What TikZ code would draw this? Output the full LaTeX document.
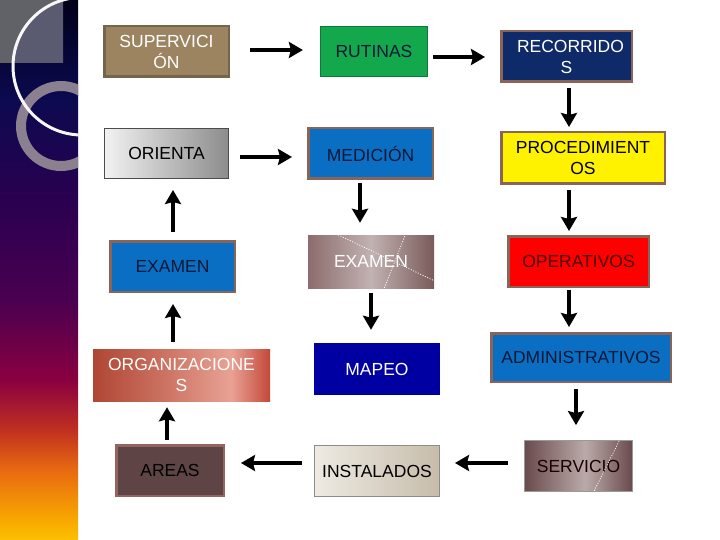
\documentclass[tikz,border=0pt]{standalone}
\usepackage{fontspec}
\setmainfont{Liberation Sans}
\usetikzlibrary{arrows.meta,calc}
\definecolor{sY}{HTML}{FBC000}
\definecolor{sA}{HTML}{F8A800}
\definecolor{sB}{HTML}{E86A10}
\definecolor{sC}{HTML}{C03020}
\definecolor{sD}{HTML}{8A0040}
\definecolor{sE}{HTML}{4A0050}
\definecolor{sF}{HTML}{2A0050}
\definecolor{sG}{HTML}{0C0A50}
\definecolor{sK}{HTML}{000018}
\pgfdeclareverticalshading{stripshade}{100bp}{color(0bp)=(sY); color(25bp)=(sY); color(26.85bp)=(sA); color(31.48bp)=(sB); color(35.19bp)=(sC); color(39.81bp)=(sD); color(47.22bp)=(sE); color(56.48bp)=(sF); color(65.74bp)=(sG); color(75bp)=(sK); color(100bp)=(sK)}
\definecolor{brd}{HTML}{8B6458}
\definecolor{supF}{HTML}{9C8461}
\definecolor{supB}{HTML}{75664B}
\definecolor{rutF}{HTML}{12A84B}
\definecolor{rutB}{HTML}{0B7A3A}
\definecolor{recF}{HTML}{0F2A68}
\definecolor{bluF}{HTML}{0A6FC2}
\definecolor{navyT}{HTML}{0A1838}
\definecolor{mapF}{HTML}{0000A2}
\definecolor{areF}{HTML}{5E4444}
\definecolor{areB}{HTML}{946460}
\definecolor{opeT}{HTML}{4A0000}
\definecolor{oriL}{HTML}{F2F2F2}
\definecolor{oriR}{HTML}{8C8C8C}
\definecolor{orgL}{HTML}{B04634}
\definecolor{orgL2}{HTML}{CC7262}
\definecolor{orgM}{HTML}{E8A294}
\definecolor{orgR}{HTML}{C4483A}
\pgfdeclarehorizontalshading{orgshade}{100bp}{color(0bp)=(orgL); color(25bp)=(orgL); color(45bp)=(orgL2); color(64bp)=(orgM); color(75bp)=(orgR); color(100bp)=(orgR)}
\definecolor{exL}{HTML}{8C6C6C}
\definecolor{exM}{HTML}{C2B2B2}
\definecolor{exR}{HTML}{7A5A5A}
\definecolor{insL}{HTML}{EEEAE2}
\definecolor{insR}{HTML}{C6BCAA}
\definecolor{serL}{HTML}{6A4A4C}
\definecolor{serM}{HTML}{BBAAAA}
\definecolor{serR}{HTML}{6A4A4C}
\pgfdeclarehorizontalshading{sershade}{100bp}{color(0bp)=(serL); color(25bp)=(serL); color(53bp)=(serM); color(75bp)=(serR); color(100bp)=(serR)}
\definecolor{sqG}{HTML}{616168}
\definecolor{sqB}{HTML}{5A5A70}
\definecolor{ringC}{HTML}{8A8090}
\tikzset{
  box/.style={draw=brd, line width=2.5pt, inner sep=0pt, align=center,
    font=\fontsize{17.5}{21}\selectfont},
  arr/.style={line width=4pt, -{Stealth[length=14pt,width=16pt,inset=2pt]}},
  dotl/.style={white, line width=0.8pt, dash pattern=on 1pt off 1.6pt},
}
\begin{document}
\begin{tikzpicture}[x=1pt,y=-1pt]
\useasboundingbox (0,0) rectangle (720,540);
\fill[white] (0,0) rectangle (720,540);
% left decorative strip
\shade[shading=stripshade] (0,0) rectangle (78,540);
\begin{scope}
  \clip (0,0) rectangle (78,540);
  \fill[sqG] (0,0) rectangle (63,63);
  \begin{scope}
    \clip (0,0) rectangle (63,63);
    \fill[sqB] (81.8,66.2) circle[radius=68.8];
  \end{scope}
  \fill[ringC, even odd rule] (61,126) circle[radius=45] (61,126) circle[radius=35];
  \draw[white!94!gray, line width=3pt] (81.8,66.2) circle[radius=68.8];
\end{scope}
% boxes
\node[box, draw=supB, fill=supF, text=white, minimum width=124.5pt, minimum height=50.5pt] (sup) at (166.5,51.5) {SUPERVICI\\ÓN};
\node[box, draw=rutB, line width=1.2pt, fill=rutF, text=navyT, minimum width=107pt, minimum height=50pt] (rut) at (374,51.5) {RUTINAS};
\node[box, fill=recF, text=white, minimum width=130.5pt, minimum height=50.5pt] (rec) at (566.5,56.5) {\hspace*{8pt}RECORRIDO\\S};
\node[box, draw=black!70, line width=1pt, left color=oriL, right color=oriR, text=black, minimum width=124pt, minimum height=50pt] (ori) at (166.5,153.5) {ORIENTA};
\node[box, fill=bluF, text=navyT, minimum width=124.5pt, minimum height=50.5pt] (med) at (370.5,153.5) {MEDICIÓN};
\node[box, fill=yellow, text=black, minimum width=163.5pt, minimum height=51.5pt] (pro) at (583,158) {PROCEDIMIENT\\OS};
\node[box, fill=bluF, text=navyT, minimum width=124.5pt, minimum height=50.5pt] (exl) at (172.5,266.5) {EXAMEN};
\node[box, draw=none, left color=exL, right color=exR, middle color=exM, text=white, minimum width=126pt, minimum height=53pt] (exm) at (371,261.5) {EXAMEN};
\node[box, fill=red, text=opeT, minimum width=140.5pt, minimum height=50.5pt] (ope) at (578.5,261.5) {OPERATIVOS};
\node[box, draw=none, shading=orgshade, text=white, minimum width=177pt, minimum height=52pt] (org) at (181.5,375) {ORGANIZACIONE\\S};
\node[box, draw=none, fill=mapF, text=white, minimum width=126pt, minimum height=52pt] (map) at (377,369) {MAPEO};
\node[box, fill=bluF, text=navyT, minimum width=179.5pt, minimum height=48.5pt] (adm) at (581,357.5) {ADMINISTRATIVOS};
\node[box, draw=areB, fill=areF, text=black, minimum width=107.5pt, minimum height=50.5pt] (are) at (170,470.5) {AREAS};
\node[box, draw=black!45, line width=1pt, left color=insL, right color=insR, text=black, minimum width=125pt, minimum height=51pt] (ins) at (377,471) {INSTALADOS};
\node[box, draw=black!40, line width=0.8pt, shading=sershade, text=black!90!red, minimum width=108pt, minimum height=51pt] (ser) at (578.5,466) {SERVICIO};
% dotted white streaks
\draw[dotl] ($(exm.north west)+(29,0)$) -- ($(exm.south east)+(0,-8)$);
\draw[dotl] ($(exm.north west)+(99,0)$) -- ($(exm.south west)+(77,0)$);
\draw[dotl] ($(ser.north west)+(95,1)$) -- ($(ser.south west)+(70,-1)$);
% arrows
\draw[arr, shorten <=20pt, shorten >=17pt] ([yshift=1.5pt]sup.east) -- ([yshift=1.5pt]sup.east -| rut.west);
\draw[arr, shorten <=5pt, shorten >=15pt] ([yshift=-5.5pt]rut.east) -- ([yshift=-5.5pt]rut.east -| rec.west);
\draw[arr, shorten <=5pt, shorten >=4pt] ([xshift=2.5pt]rec.south) -- ([xshift=2.5pt]rec.south |- pro.north);
\draw[arr, shorten <=11pt, shorten >=15pt] ([yshift=-3.5pt]ori.east) -- ([yshift=-3.5pt]ori.east -| med.west);
\draw[arr, shorten <=3pt, shorten >=11pt] ([xshift=-10.5pt]med.south) -- ([xshift=-10.5pt]med.south |- exm.north);
\draw[arr, shorten <=5pt, shorten >=4pt] ([xshift=-14pt]pro.south) -- ([xshift=-14pt]pro.south |- ope.north);
\draw[arr, shorten <=8pt, shorten >=11pt] ([xshift=0.5pt]exl.north) -- ([xshift=0.5pt]exl.north |- ori.south);
\draw[arr, shorten <=4pt, shorten >=12pt] (exm.south) -- (exm.south |- map.north);
\draw[arr, shorten <=2pt, shorten >=5pt] ([xshift=-9.5pt]ope.south) -- ([xshift=-9.5pt]ope.south |- adm.north);
\draw[arr, shorten <=6pt, shorten >=11pt] ([xshift=-8.5pt]org.north) -- ([xshift=-8.5pt]org.north |- exl.south);
\draw[arr, shorten <=6pt, shorten >=15pt] ([xshift=-5pt]adm.south) -- ([xshift=-5pt]adm.south |- ser.north);
\draw[arr, shorten <=4pt, shorten >=5pt] ([xshift=-3pt]are.north) -- ([xshift=-3pt]are.north |- org.south);
\draw[arr, shorten <=12pt, shorten >=16pt] ([yshift=8pt]ins.west) -- ([yshift=8pt]ins.west -| are.east);
\draw[arr, shorten <=16pt, shorten >=15pt] ([yshift=3pt]ser.west) -- ([yshift=3pt]ser.west -| ins.east);
\end{tikzpicture}
\end{document}
